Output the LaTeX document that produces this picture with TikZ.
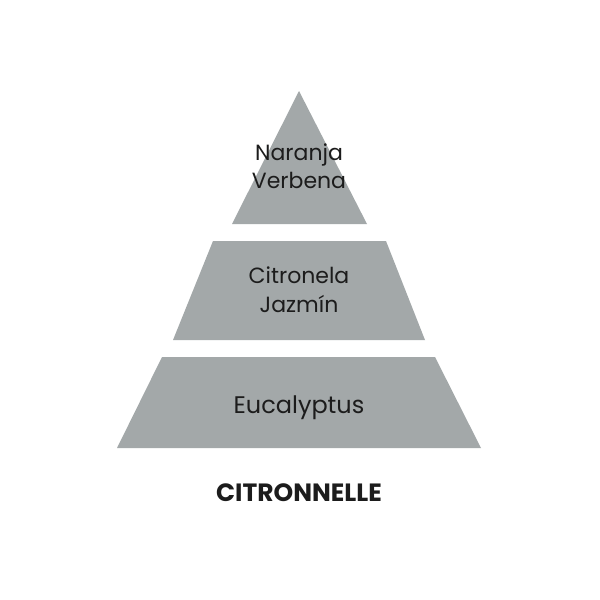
\documentclass[tikz,border=0pt]{standalone}
\usepackage{fontspec}
\setmainfont{Poppins}
\definecolor{tiergray}{HTML}{A3A8A9}
\definecolor{inkdark}{HTML}{1C1C1C}
\tikzset{
  tier/.style={fill=tiergray},
  note/.style={anchor=base, text=inkdark, font=\fontsize{22}{26}\selectfont, inner sep=0pt},
}
\begin{document}
\begin{tikzpicture}[x=1pt,y=-1pt]
\def\toptier{(299,91) -- (367,224) -- (232,224) -- cycle}
\def\midtier{(213,241) -- (386,241) -- (425,340) -- (173,340) -- cycle}
\def\basetier{(162,357) -- (435,357) -- (481,448) -- (117,448) -- cycle}
    \useasboundingbox (0,0) rectangle (600,600);
    \fill[white] (0,0) rectangle (600,600);
    \fill[tier] \toptier;
    \fill[tier] \midtier;
    \fill[tier] \basetier;
    % notes, top to bottom
    \node[note] (naranja) at (299,160) {Naranja};
    \node[note] (verbena) at (299,188) {Verbena};
    \node[note] (citronela) at (299,283) {Citronela};
    \node[note] (jazmin) at (299,312) {Jazmín};
    \node[note, font=\fontsize{24}{28}\selectfont] (eucalyptus) at (299,413) {Eucalyptus};
    \node[note, font=\fontsize{25}{30}\selectfont\bfseries] (title) at (299,501) {CITRONNELLE};
\end{tikzpicture}
\end{document}
